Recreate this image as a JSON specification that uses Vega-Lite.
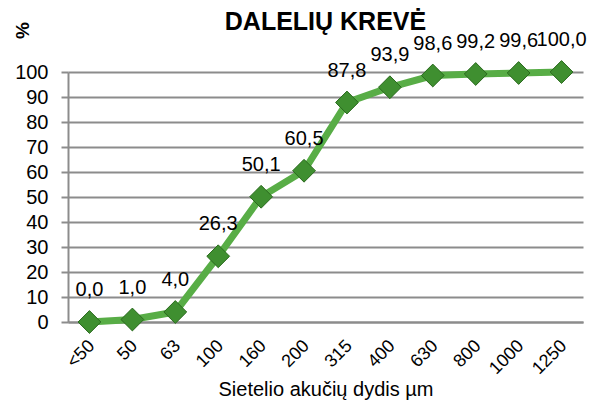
{
  "$schema": "https://vega.github.io/schema/vega-lite/v6.json",
  "width": 515,
  "height": 250,
  "autosize": {"type": "none"},
  "padding": {"left": 68, "top": 72, "right": 21, "bottom": 79},
  "background": "white",
  "title": {
    "text": "DALELIŲ KREVĖ",
    "font": "Liberation Sans",
    "fontSize": 25,
    "fontWeight": "bold",
    "color": "#000000",
    "anchor": "middle",
    "offset": 0,
    "dy": 13
  },
  "config": {
    "view": {"stroke": null},
    "locale": {"number": {"decimal": ",", "thousands": " ", "grouping": [3], "currency": ["", " €"]}},
    "font": "Liberation Sans"
  },
  "data": {
    "values": [
      {"size": "<50", "pct": 0.0},
      {"size": "50", "pct": 1.0},
      {"size": "63", "pct": 4.0},
      {"size": "100", "pct": 26.3},
      {"size": "160", "pct": 50.1},
      {"size": "200", "pct": 60.5},
      {"size": "315", "pct": 87.8},
      {"size": "400", "pct": 93.9},
      {"size": "630", "pct": 98.6},
      {"size": "800", "pct": 99.2},
      {"size": "1000", "pct": 99.6},
      {"size": "1250", "pct": 100.0}
    ]
  },
  "encoding": {
    "x": {
      "field": "size",
      "type": "ordinal",
      "sort": null,
      "scale": {"type": "point", "padding": 0.5},
      "axis": {
        "title": "Sietelio akučių dydis µm",
        "titleFont": "Liberation Sans",
        "titleFontSize": 20,
        "titleFontWeight": "normal",
        "titleColor": "#000000",
        "titlePadding": 2,
        "labelAngle": -45,
        "labelAlign": "right",
        "labelBaseline": "middle",
        "labelFontSize": 18,
        "labelColor": "#000000",
        "labelPadding": 21,
        "labelOffset": 2,
        "ticks": false,
        "domainColor": "#8c8c8c",
        "domainWidth": 2,
        "grid": false
      }
    },
    "y": {
      "field": "pct",
      "type": "quantitative",
      "scale": {"domain": [0, 100], "nice": false},
      "axis": {
        "title": "%",
        "titleFont": "Liberation Sans",
        "titleFontSize": 19,
        "titleFontWeight": "bold",
        "titleColor": "#000000",
        "titleAngle": -90,
        "titleX": -46,
        "titleY": -42,
        "titleAlign": "center",
        "titleBaseline": "middle",
        "values": [0, 10, 20, 30, 40, 50, 60, 70, 80, 90, 100],
        "labelFontSize": 20,
        "labelColor": "#000000",
        "labelPadding": 13,
        "tickSize": 7,
        "tickColor": "#8c8c8c",
        "tickWidth": 2,
        "domainColor": "#8c8c8c",
        "domainWidth": 2,
        "gridColor": "#8c8c8c",
        "gridWidth": 2
      }
    }
  },
  "layer": [
    {
      "mark": {"type": "line", "color": "#58ad46", "strokeWidth": 7}
    },
    {
      "mark": {"type": "point", "shape": "diamond", "size": 520, "filled": true, "color": "#3f8f30", "stroke": "#2a6a1e", "strokeWidth": 1, "opacity": 1}
    },
    {
      "mark": {"type": "text", "fontSize": 20, "color": "#000000", "dy": -32, "baseline": "middle", "align": "center"},
      "encoding": {
        "text": {"field": "pct", "type": "quantitative", "format": ".1f"}
      }
    }
  ]
}
